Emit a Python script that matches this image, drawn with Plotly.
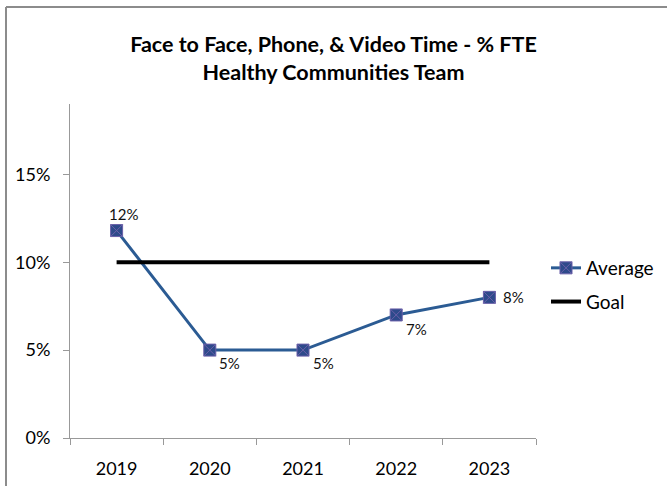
import plotly.graph_objects as go

years = ["2019", "2020", "2021", "2022", "2023"]
average = [0.118, 0.05, 0.05, 0.07, 0.08]
average_labels = ["12%", "5%", "5%", "7%", "8%"]
goal = [0.10, 0.10, 0.10, 0.10, 0.10]
y_ticks = [0, 0.05, 0.10, 0.15]
y_tick_text = ["0%", "5%", "10%", "15%"]

FONT = "Lato"
# per-point label offsets (pixels) relative to each marker
label_shift = [(7, 17), (20, -13), (20, -13), (20, -14), (24, 0)]

fig = go.Figure()
fig.add_trace(go.Scatter(
    x=years, y=average, name="Average", mode="lines+markers",
    legendgroup="avg",
    line=dict(color="#2B5B93", width=3),
    marker=dict(symbol="square-x", size=12, color="#2E4A8B",
                line=dict(color="#6A5FA8", width=1)),
))
fig.add_trace(go.Scatter(
    x=years, y=goal, name="Goal", mode="lines",
    legendgroup="goal",
    line=dict(color="#000000", width=4),
))

# value labels: category positions given by index so numeric-looking
# year names are not read as numbers
for i, (val, lab, (dx, dy)) in enumerate(zip(average, average_labels, label_shift)):
    fig.add_annotation(
        x=i, y=val, xref="x", yref="y", text=lab, showarrow=False,
        xshift=dx, yshift=dy,
        font=dict(family=FONT, size=15, color="#111111"),
    )

W0, X0, X1 = 667, 70, 536
T0, Y1 = 104, 438
pw, ph = X1 - X0, Y1 - T0

fig.update_layout(
    width=667, height=486,
    margin=dict(l=X0, r=W0 - X1, t=T0, b=486 - Y1, autoexpand=False),
    paper_bgcolor="white", plot_bgcolor="white",
    title=dict(
        text="Face to Face, Phone, &amp; Video Time - % FTE<br>Healthy Communities Team",
        x=0.5, xanchor="center", y=1 - 52 / 486, yanchor="middle",
        font=dict(family=FONT, size=21.5, color="#000000", weight="bold"),
    ),
    xaxis=dict(
        type="category", range=[-0.5, 4.5], tickson="boundaries",
        ticks="outside", ticklen=6, tickcolor="#999999",
        showline=True, linecolor="#999999", linewidth=1,
        showgrid=False, zeroline=False, automargin=False,
        ticklabelstandoff=14,
        tickfont=dict(family=FONT, size=18, color="#000000"),
    ),
    yaxis=dict(
        range=[0, 0.19], tickvals=y_ticks, ticktext=y_tick_text,
        ticks="outside", ticklen=6, tickcolor="#999999",
        showline=True, linecolor="#999999", linewidth=1,
        showgrid=False, zeroline=False, automargin=False,
        ticklabelstandoff=9,
        tickfont=dict(family=FONT, size=18, color="#000000"),
    ),
    legend=dict(
        x=(546 - X0) / pw, y=1 - (249 - T0) / ph, xanchor="left", yanchor="top",
        font=dict(family=FONT, size=19, color="#000000"),
        bgcolor="rgba(0,0,0,0)", tracegroupgap=6, itemwidth=30,
    ),
    showlegend=True,
    shapes=[
        # outer chart frame (top and left edges)
        dict(type="line", xref="paper", yref="paper",
             x0=(6 - X0) / pw, x1=(667 - X0) / pw,
             y0=1 + (T0 - 7) / ph, y1=1 + (T0 - 7) / ph,
             line=dict(color="#8C8C8C", width=2)),
        dict(type="line", xref="paper", yref="paper",
             x0=(6 - X0) / pw, x1=(6 - X0) / pw,
             y0=1 + (T0 - 7) / ph, y1=-(486 - Y1) / ph,
             line=dict(color="#8C8C8C", width=2)),
    ],
)

fig.write_html("out.html")
